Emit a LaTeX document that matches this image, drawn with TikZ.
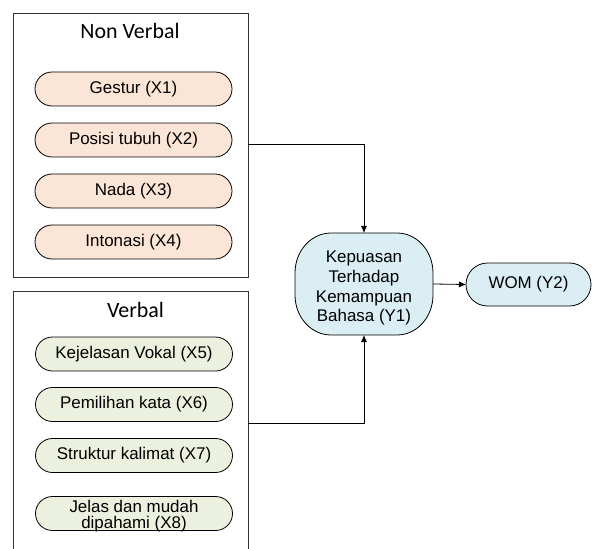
\documentclass[tikz,border=0pt]{standalone}
\usepackage{fontspec}
\setmainfont{Liberation Sans}
\newfontfamily\calibri{Carlito}
\usetikzlibrary{arrows.meta,shapes.misc,calc}
\definecolor{peach}{RGB}{251,229,214}
\definecolor{sage}{RGB}{235,241,222}
\definecolor{skyb}{RGB}{218,238,243}
\begin{document}
\begin{tikzpicture}[x=1bp,y=-1bp,
  every node/.style={inner sep=0pt,outer sep=0pt},
  pill/.style={draw=black,line width=0.8bp,rounded rectangle,minimum width=197bp,minimum height=34bp,font=\fontsize{17}{16.5}\selectfont,align=center},
  nvpill/.style={pill,fill=peach},
  vpill/.style={pill,fill=sage},
  grp/.style={line width=0.9bp,draw=black!80},
  title/.style={font=\calibri\fontsize{22}{24}\selectfont},
  link/.style={line width=0.8bp,-{Latex[length=7bp,width=6bp]}}
]
\useasboundingbox (0,0) rectangle (593,549);
% Non Verbal group
\node[grp,draw,minimum width=235bp,minimum height=264bp] (nv) at (130.5,145) {};
\node[title] (nvt) at (130,31) {Non Verbal};
\node[nvpill] (x1) at (133.5,89) {Gestur (X1)};
\node[nvpill] (x2) at (133.5,140) {Posisi tubuh (X2)};
\node[nvpill] (x3) at (133.5,191) {Nada (X3)};
\node[nvpill] (x4) at (133.5,242) {Intonasi (X4)};
% Verbal group (open at the bottom)
\node[minimum width=235bp,minimum height=258bp] (vb) at (130.5,420) {};
\draw[grp] (vb.south west) -- (vb.north west) -- (vb.north east) -- (vb.south east);
\node[title] (vbt) at (135.5,310) {Verbal};
\node[vpill] (x5) at (134,354) {Kejelasan Vokal (X5)};
\node[vpill] (x6) at (134,404.5) {Pemilihan kata (X6)};
\node[vpill] (x7) at (134,455.5) {Struktur kalimat (X7)};
\node[vpill] (x8) at (134,513.5) {};
\node[align=center,font=\fontsize{17}{16.5}\selectfont] (x8t) at (134,516) {Jelas dan mudah\\dipahami (X8)};
% Outcomes
\node[minimum width=138bp,minimum height=102bp] (y1) at (364,284) {};
\def\rx{36}\def\ry{40}\def\kx{16.1}\def\ky{17.9}
\draw[line width=0.8bp,fill=skyb]
  ($(y1.north west)+(\rx,0)$) -- ($(y1.north east)+(-\rx,0)$)
  .. controls ($(y1.north east)+(-\kx,0)$) and ($(y1.north east)+(0,\ky)$) .. ($(y1.north east)+(0,\ry)$)
  -- ($(y1.south east)+(0,-\ry)$)
  .. controls ($(y1.south east)+(0,-\ky)$) and ($(y1.south east)+(-\kx,0)$) .. ($(y1.south east)+(-\rx,0)$)
  -- ($(y1.south west)+(\rx,0)$)
  .. controls ($(y1.south west)+(\kx,0)$) and ($(y1.south west)+(0,-\ky)$) .. ($(y1.south west)+(0,-\ry)$)
  -- ($(y1.north west)+(0,\ry)$)
  .. controls ($(y1.north west)+(0,\ky)$) and ($(y1.north west)+(\kx,0)$) .. cycle;
\node[align=center,font=\fontsize{17}{20}\selectfont] (y1t) at (364,288) {Kepuasan\\Terhadap\\Kemampuan\\Bahasa (Y1)};
\node[draw=black,line width=0.8bp,fill=skyb,rounded rectangle,minimum width=125bp,minimum height=43bp,font=\fontsize{17}{16.5}\selectfont] (y2) at (528.5,284.5) {WOM (Y2)};
% Connectors
\coordinate (nvout) at ([yshift=1bp]nv.east);
\coordinate (vbout) at (vb.east |- 0,423);
\draw[link] (nvout) -| (y1.north);
\draw[link] (vbout) -| (y1.south);
\draw[link] (y1.east) -- (y2.west);
\end{tikzpicture}
\end{document}
